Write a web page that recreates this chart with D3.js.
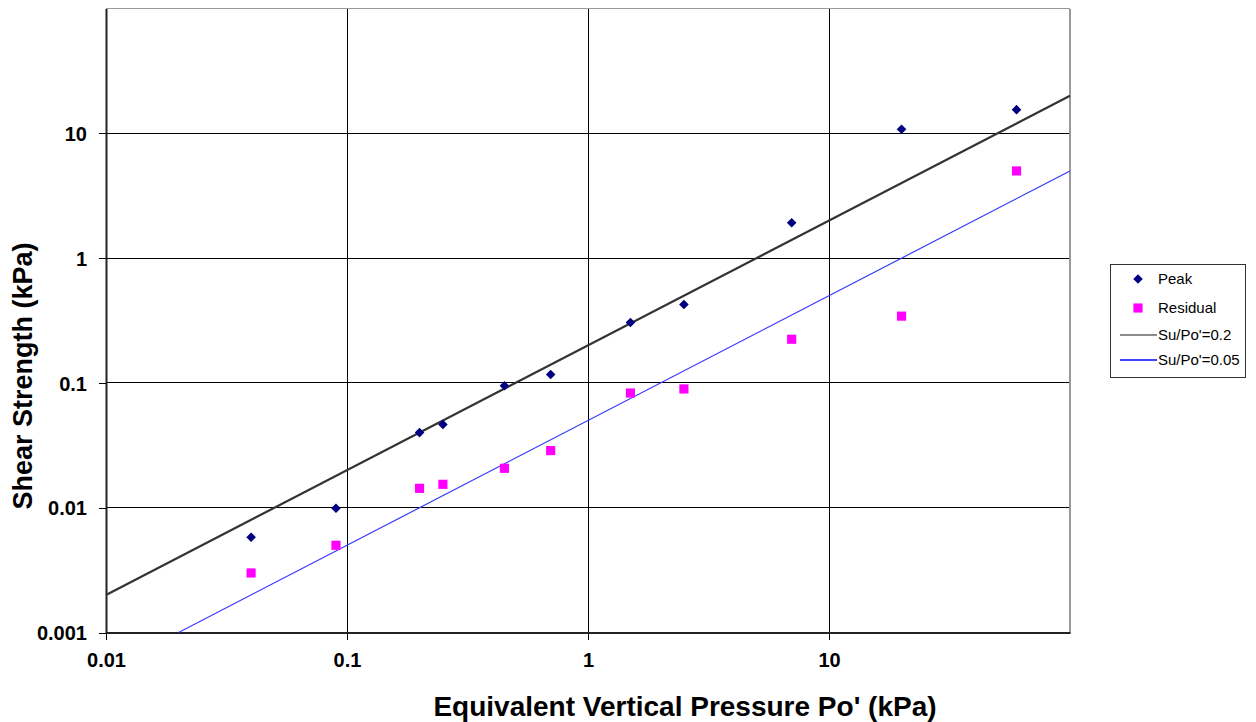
<!DOCTYPE html>
<html><head><meta charset="utf-8">
<script src="https://cdn.jsdelivr.net/npm/d3@7"></script>
<style>
html,body{margin:0;padding:0;background:#fff;}
text{font-family:Arial,"Liberation Sans",sans-serif;}
</style></head>
<body><svg id="chart" width="1256" height="722"></svg>
<script>
// ---- data ----
const pressure = [0.04, 0.09, 0.2, 0.25, 0.45, 0.7, 1.5, 2.5, 7, 20, 60];
const peak     = [0.0058, 0.0099, 0.040, 0.0465, 0.095, 0.117, 0.305, 0.425, 1.92, 10.8, 15.5];
const residual = [0.0030, 0.0050, 0.0143, 0.0154, 0.0207, 0.0287, 0.083, 0.0895, 0.224, 0.343, 5.0];
const line02X = [0.01, 100];
const line02Y = [0.002, 20];
const line005X = [0.02, 100];
const line005Y = [0.001, 5];
const xTicks = [0.01, 0.1, 1, 10];
const xTickLabels = ["0.01", "0.1", "1", "10"];
const yTicks = [0.001, 0.01, 0.1, 1, 10];
const yTickLabels = ["0.001", "0.01", "0.1", "1", "10"];
const legendLabels = ["Peak", "Residual", "Su/Po'=0.2", "Su/Po'=0.05"];

// ---- layout ----
const L = 106, R = 1070, T = 8.6, B = 632.5;
const svg = d3.select("#chart");
const x = d3.scaleLog().domain([0.01, 100]).range([L, R]);
const y = d3.scaleLog().domain([0.001, 100]).range([B, T]);

// grid
const g = svg.append("g").attr("shape-rendering", "crispEdges");
g.selectAll(".gx").data(xTicks.slice(1)).join("line")
  .attr("x1", d => x(d)).attr("x2", d => x(d)).attr("y1", T).attr("y2", B)
  .attr("stroke", "#000").attr("stroke-width", 1);
g.selectAll(".gy").data(yTicks.slice(1)).join("line")
  .attr("x1", L).attr("x2", R).attr("y1", d => y(d)).attr("y2", d => y(d))
  .attr("stroke", "#000").attr("stroke-width", 1);
// top/right border
g.append("line").attr("x1", L).attr("x2", R).attr("y1", T).attr("y2", T).attr("stroke", "#999").attr("stroke-width", 1.5);
g.append("line").attr("x1", R).attr("x2", R).attr("y1", T).attr("y2", B).attr("stroke", "#999").attr("stroke-width", 1.5);

// axes
const xAxis = d3.axisBottom(x).tickValues(xTicks).tickSize(7).tickSizeOuter(0).tickPadding(13)
  .tickFormat((d, i) => xTickLabels[i]);
const yAxis = d3.axisLeft(y).tickValues(yTicks).tickSize(7).tickSizeOuter(0).tickPadding(12)
  .tickFormat((d, i) => yTickLabels[i]);
const gx = svg.append("g").attr("transform", `translate(0,${B})`).call(xAxis);
const gy = svg.append("g").attr("transform", `translate(${L},0)`).call(yAxis);
[gx, gy].forEach(a => {
  a.select(".domain").attr("stroke", "#222").attr("stroke-width", 2);
  a.selectAll(".tick line").attr("stroke", "#000").attr("stroke-width", 1).attr("shape-rendering", "crispEdges");
  a.selectAll("text").attr("font-size", 20).attr("font-weight", "bold").attr("fill", "#000")
    .attr("font-family", "Arial, 'Liberation Sans', sans-serif");
});
gy.selectAll("text").attr("dy", "0.36em");

// reference lines
const lineGen = d3.line().x(d => x(d[0])).y(d => y(d[1]));
svg.append("path").datum(line02X.map((v, i) => [v, line02Y[i]]))
  .attr("d", lineGen).attr("fill", "none").attr("stroke", "#333").attr("stroke-width", 2.2);
svg.append("path").datum(line005X.map((v, i) => [v, line005Y[i]]))
  .attr("d", lineGen).attr("fill", "none").attr("stroke", "#3a3aff").attr("stroke-width", 1.2);

// markers
const diamond = d3.symbol().type(d3.symbolSquare).size(46);
const square = d3.symbol().type(d3.symbolSquare).size(84);
svg.selectAll(".res").data(pressure.map((p, i) => [p, residual[i]])).join("path")
  .attr("d", square).attr("transform", d => `translate(${x(d[0])},${y(d[1])})`)
  .attr("fill", "#ff00ff");
svg.selectAll(".pk").data(pressure.map((p, i) => [p, peak[i]])).join("path")
  .attr("d", diamond).attr("transform", d => `translate(${x(d[0])},${y(d[1])}) rotate(45)`)
  .attr("fill", "#000080");

// titles
svg.append("text").attr("x", 685).attr("y", 716).attr("text-anchor", "middle")
  .attr("font-size", 28).attr("font-weight", "bold").text("Equivalent Vertical Pressure Po' (kPa)");
svg.append("text").attr("transform", "translate(32,376) rotate(-90)").attr("text-anchor", "middle")
  .attr("font-size", 27).attr("font-weight", "bold").text("Shear Strength (kPa)");

// legend
const lg = svg.append("g");
lg.append("rect").attr("x", 1110.5).attr("y", 264.5).attr("width", 135).attr("height", 113)
  .attr("fill", "#fff").attr("stroke", "#333").attr("stroke-width", 1);
const ly = [279, 308, 335, 360];
lg.append("path").attr("d", diamond).attr("transform", `translate(1138,${ly[0]}) rotate(45)`).attr("fill", "#000080");
lg.append("path").attr("d", square).attr("transform", `translate(1138,${ly[1]})`).attr("fill", "#ff00ff");
lg.append("line").attr("x1", 1120).attr("x2", 1157).attr("y1", ly[2]).attr("y2", ly[2]).attr("stroke", "#666").attr("stroke-width", 1.3);
lg.append("line").attr("x1", 1120).attr("x2", 1157).attr("y1", ly[3]).attr("y2", ly[3]).attr("stroke", "#0000ff").attr("stroke-width", 1.3);
lg.selectAll(".lt").data(legendLabels).join("text")
  .attr("x", 1158).attr("y", (d, i) => ly[i]).attr("dy", "0.36em")
  .attr("font-size", 15).attr("fill", "#000").text(d => d);
</script></body></html>
